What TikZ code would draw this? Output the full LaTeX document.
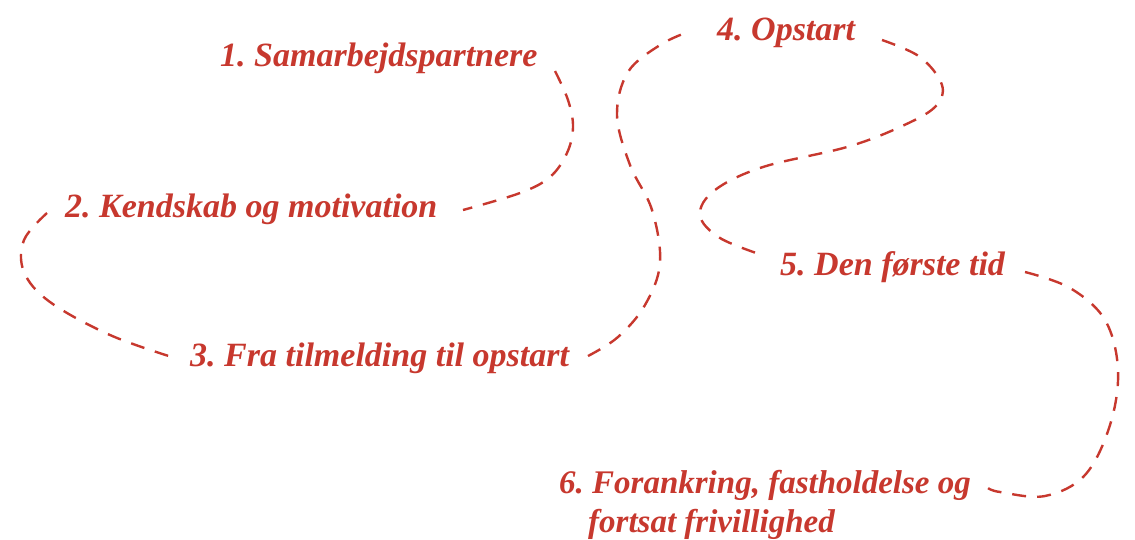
\documentclass[tikz,border=0pt]{standalone}
\usepackage{fontspec}
\setmainfont{Liberation Serif}
\usetikzlibrary{calc}
\definecolor{rd}{RGB}{199,56,46}
\frenchspacing
\begin{document}
\begin{tikzpicture}[x=1pt,y=-1pt,
  lbl/.style={inner sep=0pt, anchor=base west, text=rd,
    font=\fontsize{34}{40}\selectfont\bfseries\itshape},
  lblsm/.style={lbl, font=\fontsize{33}{40}\selectfont\bfseries\itshape},
  trail/.style={draw=rd, line width=2.4pt, dash pattern=on 14pt off 11pt, line cap=butt}]
\useasboundingbox (0,0) rectangle (1135,539);

\node[lbl] (n1) at (220,66) {1. Samarbejdspartnere};
\node[lbl] (n2) at (65,217) {2. Kendskab og motivation};
\node[lbl] (n3) at (190,366) {3. Fra tilmelding til opstart};
\node[lbl] (n4) at (717,40) {4. Opstart};
\node[lbl] (n5) at (780,275) {5. Den første tid};
\node[lblsm] (n6) at (559,493) {6. Forankring, fastholdelse og};
\node[lblsm] (n6b) at ($(n6.base west)+(29,39)$) {fortsat frivillighed};

% curve end points
\coordinate (a1) at (555,71);
\coordinate (b1) at (463,210);
\coordinate (a2) at (47,213);
\coordinate (b2) at (175,358);
\coordinate (a3) at (588,356);
\coordinate (b3) at (688,32);
\coordinate (a4) at (882,40);
\coordinate (b4) at (765,256);
\coordinate (a5) at (1025,272);
\coordinate (b5) at (988,488);

\draw[trail] plot[smooth, tension=0.6] coordinates {(a1) (568,100) (573,127) (567,153) (550,177) (520,193) (b1)};
\draw[trail] plot[smooth, tension=0.6] coordinates {(a2) (24,240) (24,272) (50,302) (110,335) (b2)};
\draw[trail] plot[smooth, tension=0.6] coordinates {(a3) (618,337) (645,305) (660,263) (652,210) (630,165) (617,115) (628,72) (660,45) (b3)};
\draw[trail] plot[smooth, tension=0.6] coordinates {(a4) (920,57) (942,85) (935,107) (900,127) (847,147) (763,167) (715,190) (700,215) (720,238) (b4)};
\draw[trail] plot[smooth, tension=0.6] coordinates {(a5) (1070,288) (1105,320) (1118,370) (1110,425) (1085,475) (1045,496) (1000,492) (b5)};
\end{tikzpicture}
\end{document}
